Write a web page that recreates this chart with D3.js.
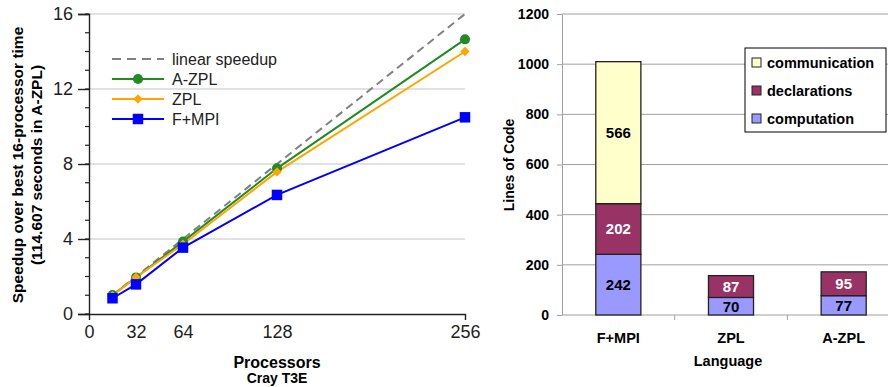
<!DOCTYPE html>
<html>
<head>
<meta charset="utf-8">
<script src="https://cdn.jsdelivr.net/npm/d3@7"></script>
<style>
  body { margin: 0; background: #fff; }
  svg { font-family: Arial, "Liberation Sans", sans-serif; }
</style>
</head>
<body>
<svg id="chart" width="888" height="387"></svg>
<script>
// speedup chart data
var procs = [16, 32, 64, 128, 256];
var linear = [1, 2, 4, 8, 16];
var azpl = [1.01, 1.95, 3.86, 7.77, 14.65];
var zpl = [0.98, 1.96, 3.72, 7.58, 14.0];
var fmpi = [0.84, 1.58, 3.54, 6.35, 10.49];
var xTickVals = [0, 32, 64, 128, 256];
var yTickVals = [0, 4, 8, 12, 16];

// lines of code data
var languages = ["F+MPI", "ZPL", "A-ZPL"];
var computation = [242, 70, 77];
var declarations = [202, 87, 95];
var communication = [566, 0, 0];
var locTicks = [0, 200, 400, 600, 800, 1000, 1200];

var svg = d3.select("#chart");

// ---------- left: speedup ----------
var x = d3.scaleLinear().domain([0, 256]).range([89, 465]);
var y = d3.scaleLinear().domain([0, 16]).range([314, 14]);

var left = svg.append("g");

// gridlines
left.append("g").selectAll("line")
  .data(yTickVals.slice(1))
  .enter().append("line")
    .attr("x1", x(0)).attr("x2", x(256))
    .attr("y1", function(d) { return y(d); })
    .attr("y2", function(d) { return y(d); })
    .attr("stroke", "#d9d9d9").attr("stroke-width", 1.5);

// minor ticks
left.append("g").selectAll("line")
  .data(d3.range(0, 17))
  .enter().append("line")
    .attr("x1", x(0) - 4).attr("x2", x(0))
    .attr("y1", function(d) { return y(d); })
    .attr("y2", function(d) { return y(d); })
    .attr("stroke", "#222").attr("stroke-width", 1.2);

var yAxis = left.append("g")
  .attr("transform", "translate(" + x(0) + ",0)")
  .call(d3.axisLeft(y).tickValues(yTickVals).tickSize(11).tickPadding(5));
yAxis.selectAll("text").style("font-size", "18px").attr("fill", "#222");
yAxis.selectAll("line, path").attr("stroke", "#222").attr("stroke-width", 1.4);

var xAxis = left.append("g")
  .attr("transform", "translate(0," + y(0) + ")")
  .call(d3.axisBottom(x).tickValues(xTickVals).tickSize(0).tickPadding(11).tickSizeOuter(6));
xAxis.selectAll("text").style("font-size", "18px").attr("fill", "#222");
xAxis.selectAll("path").attr("stroke", "#222").attr("stroke-width", 1.4);

var line = d3.line()
  .x(function(d, i) { return x(procs[i]); })
  .y(function(d) { return y(d); });

left.append("path").datum(linear)
  .attr("d", line).attr("fill", "none")
  .attr("stroke", "#808080").attr("stroke-width", 2).attr("stroke-dasharray", "8,5");

var series = [
  {name: "A-ZPL", values: azpl, color: "#228b22", marker: "circle"},
  {name: "ZPL", values: zpl, color: "#ffa500", marker: "diamond"},
  {name: "F+MPI", values: fmpi, color: "#0000ff", marker: "square"}
];
var symbolType = {circle: d3.symbolCircle, diamond: d3.symbolDiamond2, square: d3.symbolSquare};
var symbolSize = {circle: 80, diamond: 55, square: 110};

series.forEach(function(s) {
  left.append("path").datum(s.values)
    .attr("d", line).attr("fill", "none")
    .attr("stroke", s.color).attr("stroke-width", 2);
});
series.forEach(function(s) {
  left.append("g").selectAll("path")
    .data(s.values)
    .enter().append("path")
      .attr("transform", function(d, i) { return "translate(" + x(procs[i]) + "," + y(d) + ")"; })
      .attr("d", d3.symbol().type(symbolType[s.marker]).size(symbolSize[s.marker]))
      .attr("fill", s.color);
});

// legend
var leg = left.append("g");
var legRows = [{name: "linear speedup", color: "#808080", dash: true}].concat(series);
legRows.forEach(function(r, i) {
  var ly = 59 + i * 20;
  leg.append("line")
    .attr("x1", 112).attr("x2", 164).attr("y1", ly).attr("y2", ly)
    .attr("stroke", r.color).attr("stroke-width", 2)
    .attr("stroke-dasharray", r.dash ? "9,6" : null);
  if (r.marker) {
    leg.append("path")
      .attr("transform", "translate(138," + ly + ")")
      .attr("d", d3.symbol().type(symbolType[r.marker]).size(symbolSize[r.marker]))
      .attr("fill", r.color);
  }
  leg.append("text").attr("x", 172).attr("y", ly).attr("dy", "0.35em")
    .style("font-size", "16px").attr("fill", "#222").text(r.name);
});

// axis titles
left.append("text")
  .attr("transform", "translate(23,165) rotate(-90)")
  .attr("text-anchor", "middle").style("font-size", "15.5px").style("font-weight", "bold")
  .text("Speedup over best 16-processor time");
left.append("text")
  .attr("transform", "translate(42,165) rotate(-90)")
  .attr("text-anchor", "middle").style("font-size", "15.5px").style("font-weight", "bold")
  .text("(114.607 seconds in A-ZPL)");
left.append("text")
  .attr("x", 277).attr("y", 368).attr("text-anchor", "middle")
  .style("font-size", "16px").style("font-weight", "bold").text("Processors");
left.append("text")
  .attr("x", 277).attr("y", 383).attr("text-anchor", "middle")
  .style("font-size", "14px").style("font-weight", "bold").text("Cray T3E");

// ---------- right: lines of code ----------
var xb = d3.scaleBand().domain(languages).range([562, 900]).paddingInner(0).paddingOuter(0);
var yb = d3.scaleLinear().domain([0, 1200]).range([315, 14]);
var right = svg.append("g");

right.append("g").selectAll("line")
  .data(locTicks.slice(1))
  .enter().append("line")
    .attr("x1", 562).attr("x2", 888)
    .attr("y1", function(d) { return yb(d); })
    .attr("y2", function(d) { return yb(d); })
    .attr("stroke", "#a0a0a0").attr("stroke-width", 1);

var yAxisR = right.append("g")
  .attr("transform", "translate(562,0)")
  .call(d3.axisLeft(yb).tickValues(locTicks).tickFormat(d3.format("d"))
    .tickSize(5).tickPadding(8).tickSizeOuter(0));
yAxisR.selectAll("text").style("font-size", "14px").style("font-weight", "bold").attr("fill", "#000");
yAxisR.selectAll("line, path").attr("stroke", "#a0a0a0");

var xAxisR = right.append("g")
  .attr("transform", "translate(0," + yb(0) + ")");
xAxisR.append("line").attr("x1", 562).attr("x2", 888).attr("stroke", "#a0a0a0");
xAxisR.selectAll("line.tk")
  .data(languages.slice(1))
  .enter().append("line").attr("class", "tk")
    .attr("x1", function(d) { return xb(d); }).attr("x2", function(d) { return xb(d); })
    .attr("y1", 0).attr("y2", 5).attr("stroke", "#a0a0a0");
xAxisR.selectAll("text")
  .data(languages)
  .enter().append("text")
    .attr("x", function(d) { return xb(d) + xb.bandwidth() / 2; })
    .attr("y", 28).attr("text-anchor", "middle")
    .style("font-size", "14.5px").style("font-weight", "bold").text(function(d) { return d; });

var stackKeys = ["computation", "declarations", "communication"];
var stackColors = {computation: "#9999ff", declarations: "#993366", communication: "#ffffcc"};
var labelColors = {computation: "#000", declarations: "#fff", communication: "#000"};
var rows = languages.map(function(l, i) {
  return {lang: l, computation: computation[i], declarations: declarations[i], communication: communication[i]};
});
var stacked = d3.stack().keys(stackKeys)(rows);
var barW = xb.bandwidth() * 0.4;

stacked.forEach(function(layer) {
  var g = right.append("g");
  var segs = layer.filter(function(d) { return d[1] - d[0] > 0; });
  g.selectAll("rect")
    .data(segs)
    .enter().append("rect")
      .attr("x", function(d) { return xb(d.data.lang) + (xb.bandwidth() - barW) / 2; })
      .attr("y", function(d) { return yb(d[1]); })
      .attr("width", barW)
      .attr("height", function(d) { return yb(d[0]) - yb(d[1]); })
      .attr("fill", stackColors[layer.key])
      .attr("stroke", "#222").attr("stroke-width", 1.3);
  g.selectAll("text")
    .data(segs)
    .enter().append("text")
      .attr("x", function(d) { return xb(d.data.lang) + xb.bandwidth() / 2; })
      .attr("y", function(d) { return yb((d[0] + d[1]) / 2); })
      .attr("dy", "0.36em").attr("text-anchor", "middle")
      .style("font-size", "15px").style("font-weight", "bold")
      .attr("fill", labelColors[layer.key])
      .text(function(d) { return d[1] - d[0]; });
});

// legend
var legR = right.append("g");
legR.append("rect").attr("x", 745).attr("y", 48).attr("width", 141).attr("height", 84)
  .attr("fill", "#fff").attr("stroke", "#000").attr("stroke-width", 1);
stackKeys.slice().reverse().forEach(function(k, i) {
  var ly = 63 + i * 28;
  legR.append("rect").attr("x", 752).attr("y", ly - 5).attr("width", 9).attr("height", 9)
    .attr("fill", stackColors[k]).attr("stroke", "#222").attr("stroke-width", 1);
  legR.append("text").attr("x", 767).attr("y", ly).attr("dy", "0.35em")
    .style("font-size", "14.5px").style("font-weight", "bold").text(k);
});

right.append("text")
  .attr("x", 728).attr("y", 366).attr("text-anchor", "middle")
  .style("font-size", "14.5px").style("font-weight", "bold").text("Language");
right.append("text")
  .attr("transform", "translate(514,165) rotate(-90)")
  .attr("text-anchor", "middle").style("font-size", "14px").style("font-weight", "bold")
  .text("Lines of Code");
</script>
</body>
</html>
